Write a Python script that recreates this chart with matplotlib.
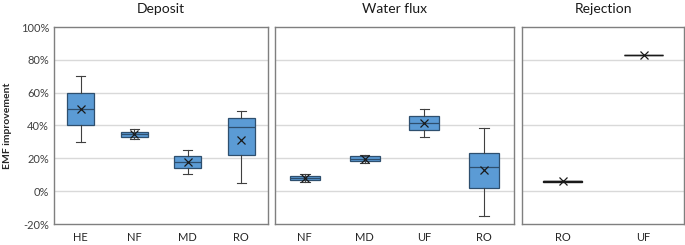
import matplotlib
matplotlib.use("Agg")
import matplotlib.pyplot as plt
from matplotlib.ticker import FuncFormatter

plt.rcParams['font.family'] = ['Lato', 'DejaVu Sans']

# Panel titles and categories
panels = ["Deposit", "Water flux", "Rejection"]
deposit_cats = ["HE", "NF", "MD", "RO"]
flux_cats = ["NF", "MD", "UF", "RO"]
rejection_cats = ["RO", "UF"]

# Box statistics (percent): whisker low, q1, median, q3, whisker high, mean
deposit_whislo = [30, 31.6, 10.3, 4.9]
deposit_q1 = [40, 33, 14, 22.2]
deposit_med = [50, 34.7, 17.6, 39.2]
deposit_q3 = [60, 36.3, 21.3, 44.3]
deposit_whishi = [70.4, 37.7, 25.2, 49]
deposit_mean = [50, 34.7, 17.6, 31]

flux_whislo = [5.7, 17, 33, -14.9]
flux_q1 = [7, 18.2, 37.1, 2]
flux_med = [8, 19.6, 41.6, 14.5]
flux_q3 = [9, 21.2, 45.7, 23.5]
flux_whishi = [10.4, 22.2, 50.2, 38.6]
flux_mean = [8, 19.6, 41.6, 12.7]

rej_whislo = [5.8, 83]
rej_q1 = [5.8, 83]
rej_med = [6, 83]
rej_q3 = [6.2, 83]
rej_whishi = [6.2, 83]
rej_mean = [6, 83]

yticks = [-20, 0, 20, 40, 60, 80, 100]

fig = plt.figure(figsize=(6.85, 2.45), dpi=100)
H = 245.0
W = 685.0
bottom = 1 - 224 / H
height = (224 - 27) / H
rects = [(54 / W, bottom, 214 / W, height),
         (275 / W, bottom, 239 / W, height),
         (522 / W, bottom, 162 / W, height)]

data = [
    (deposit_cats, deposit_whislo, deposit_q1, deposit_med, deposit_q3, deposit_whishi, deposit_mean),
    (flux_cats, flux_whislo, flux_q1, flux_med, flux_q3, flux_whishi, flux_mean),
    (rejection_cats, rej_whislo, rej_q1, rej_med, rej_q3, rej_whishi, rej_mean),
]

box_face = "#5B9BD5"
edge = "#2E4F6E"
frame = "#7F7F7F"
grid = "#D9D9D9"

for i, (rect, title, d) in enumerate(zip(rects, panels, data)):
    ax = fig.add_axes(rect)
    cats, lo, q1, med, q3, hi, mean = d
    stats = []
    for k in range(len(cats)):
        stats.append(dict(label=cats[k], whislo=lo[k], q1=q1[k], med=med[k],
                          q3=q3[k], whishi=hi[k], mean=mean[k], fliers=[]))
    rej = (i == 2)
    ax.bxp(stats, positions=range(1, len(cats) + 1), widths=0.5 if not rej else 0.48,
           showmeans=True, patch_artist=True,
           boxprops=dict(facecolor=box_face if not rej else "#1a1a1a",
                         edgecolor=edge if not rej else "#1a1a1a",
                         linewidth=0.9 if not rej else 1.0),
           medianprops=dict(color=edge if not rej else "#1a1a1a", linewidth=0.9 if not rej else 1.0),
           whiskerprops=dict(color="#404040", linewidth=0.8),
           capprops=dict(color="#404040", linewidth=0.8),
           capwidths=0.16 if not rej else 0.0,
           meanprops=dict(marker="x", markeredgecolor="#1a1a1a", markersize=5.5,
                          markeredgewidth=0.9, markerfacecolor="none"),
           zorder=3)
    ax.set_ylim(-20, 100)
    ax.set_xlim(0.5, len(cats) + 0.5)
    ax.set_yticks(yticks)
    for y in [0, 20, 40, 60, 80]:
        ax.axhline(y, color=grid, linewidth=1.0, zorder=0)
    ax.tick_params(axis='both', length=0, labelsize=8, colors="#404040")
    ax.tick_params(axis='x', pad=6)
    ax.set_xticks(range(1, len(cats) + 1))
    ax.set_xticklabels(cats, fontsize=8, color="#262626")
    if i == 0:
        ax.yaxis.set_major_formatter(FuncFormatter(lambda v, p: f"{int(v)}%"))
        ax.set_ylabel("EMF improvement", fontsize=7.5, fontweight='bold', color="#262626", labelpad=6)
    else:
        ax.set_yticklabels([])
    for s in ax.spines.values():
        s.set_color(frame)
        s.set_linewidth(1.0)
    ax.set_title(title, fontsize=10, color="#1a1a1a", pad=10)

fig.savefig("out.png", dpi=100)
